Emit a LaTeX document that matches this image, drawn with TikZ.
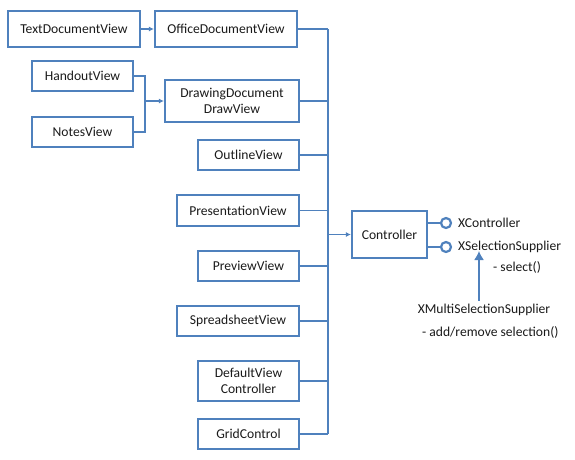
\documentclass[tikz,border=0pt]{standalone}
\usepackage{fontspec}
\setmainfont{Carlito}
\usetikzlibrary{arrows.meta}
\definecolor{bl}{HTML}{4F81BD}
\definecolor{txt}{HTML}{1A1A1A}
\begin{document}
\begin{tikzpicture}[x=1pt,y=-1pt,
  box/.style={draw=bl,line width=2.2pt,align=center,inner sep=0pt,text=txt,
    font=\fontsize{13.6}{16}\selectfont},
  lbl/.style={inner sep=0pt,text=txt,font=\fontsize{13.6}{16}\selectfont},
  conn/.style={draw=bl,line width=1.1pt},
  arr/.style={conn,-{Latex[length=5pt,width=5pt]}},
  bigarr/.style={draw=bl,line width=1.4pt,-{Latex[length=9pt,width=10pt]}},
  lolli/.style={draw=bl,line width=2.2pt}]
\useasboundingbox (0,0) rectangle (575,459);
\node[box,minimum width=132pt,minimum height=36pt] (tdv) at (74,29) {TextDocumentView};
\node[box,minimum width=142pt,minimum height=36pt] (odv) at (226,29) {OfficeDocumentView};
\node[box,minimum width=101pt,minimum height=30pt] (hv) at (82.5,76) {HandoutView};
\node[box,minimum width=101pt,minimum height=30pt] (nv) at (82.5,132) {NotesView};
\node[box,minimum width=134pt,minimum height=42pt] (ddv) at (232,101) {DrawingDocument\\DrawView};
\node[box,minimum width=101pt,minimum height=30pt] (ov) at (248.5,155) {OutlineView};
\node[box,minimum width=122pt,minimum height=31pt] (pv) at (238,210.5) {PresentationView};
\node[box,minimum width=101pt,minimum height=30pt] (prv) at (248.5,266) {PreviewView};
\node[box,minimum width=122pt,minimum height=30pt] (sv) at (238,321) {SpreadsheetView};
\node[box,minimum width=101pt,minimum height=40pt] (dvc) at (248.5,381) {DefaultView\\Controller};
\node[box,minimum width=101pt,minimum height=30pt] (gc) at (248.5,434) {GridControl};
\node[box,minimum width=75pt,minimum height=47pt] (ctrl) at (389.5,234.5) {Controller};

\coordinate (bx) at (328,0);
\coordinate (bk) at (145,0);

\draw[arr] (tdv) -- (odv);
\draw[conn] (hv.east) -| (nv.east -| bk) -- (nv.east);
\draw[arr] (ddv.west -| bk) -- (ddv.west);

\foreach \n in {odv,ddv,ov,pv,prv,sv,dvc,gc}
  \draw[conn] (\n.east) -- (\n.east -| bx);
\draw[conn] (odv.east -| bx) -- (gc.east -| bx);
\draw[arr] (ctrl.west -| bx) -- (ctrl.west);

% interfaces
\coordinate (c1) at (446,223);
\coordinate (c2) at (446,247);
\draw[lolli] (ctrl.east |- c1) -- ([xshift=-5pt]c1);
\draw[lolli] (c1) circle (5pt);
\draw[lolli] (ctrl.east |- c2) -- ([xshift=-5pt]c2);
\draw[lolli] (c2) circle (5pt);
\node[lbl,anchor=west] (xc) at (458,223) {XController};
\node[lbl,anchor=west] (xs) at (458,247) {XSelectionSupplier};
\node[lbl,anchor=west] (sel) at (493,267) {- select()};
\node[lbl] (multi) at (484,310) {XMultiSelectionSupplier};
\node[lbl,anchor=west] (addrem) at (422,332) {- add/remove selection()};
\coordinate (ax) at (479,0);
\draw[bigarr] (multi.north -| ax) ++(0,-3) -- ([yshift=2pt]xs.south -| ax);
\end{tikzpicture}
\end{document}
